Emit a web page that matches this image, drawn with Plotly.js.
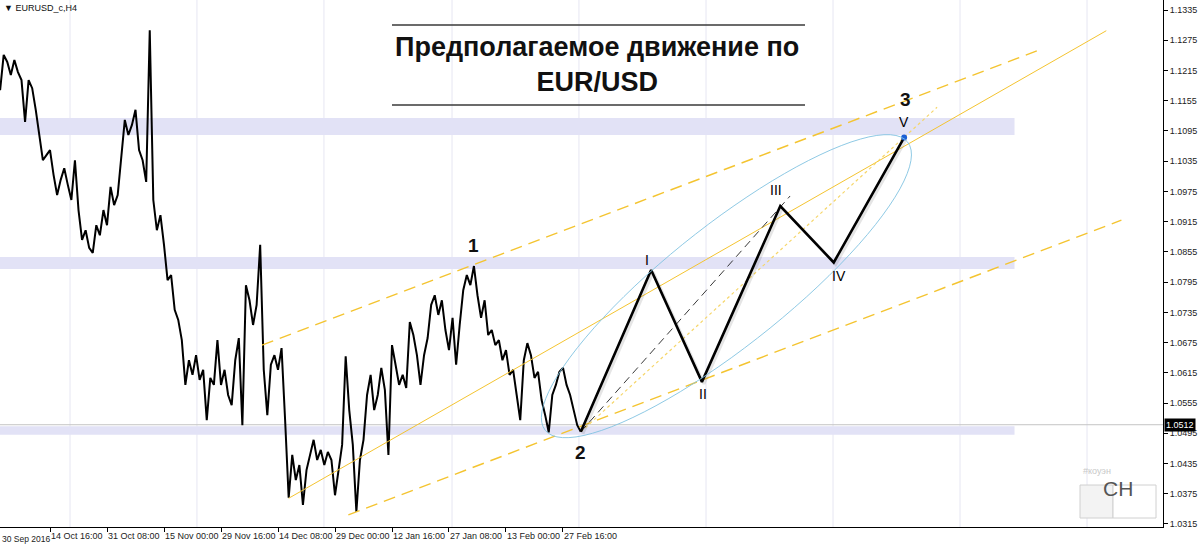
<!DOCTYPE html>
<html><head><meta charset="utf-8">
<script src="https://cdn.plot.ly/plotly-3.0.1.min.js"></script>
<style>html,body{margin:0;padding:0;background:#fff}#chart{width:1200px;height:548px}</style>
</head><body><div id="chart"></div>
<script>
// ---------- DATA ----------
const symbolLabel = "EURUSD_c,H4";
const titleLines = ["Предполагаемое движение по", "EUR/USD"];

// H4 price path (one value every 4 bars, bar index from priceStartBar)
const priceStartBar = 8;
const priceStepBars = 4;
const priceClose = [
 1.1176,1.1246,1.1232,1.1206,1.1236,1.1212,1.1196,1.1113,1.1196,1.1180,
 1.1137,1.1087,1.1037,1.1047,1.1057,1.1008,1.0968,1.0998,1.1021,1.0988,
 1.0958,1.1037,1.0938,1.0879,1.0898,1.0863,1.0853,1.0908,1.0888,1.0938,
 1.0908,1.0984,1.0948,1.0968,1.1037,1.1117,1.1087,1.1107,1.1137,1.1057,
 1.1037,1.0994,1.1295,1.0958,1.0898,1.0928,1.0869,1.0799,1.0809,1.0740,
 1.0720,1.0680,1.0591,1.0640,1.0611,1.0650,1.0601,1.0621,1.0521,1.0605,
 1.0591,1.0680,1.0591,1.0621,1.0571,1.0551,1.0640,1.0684,1.0511,1.0789,
 1.0759,1.0710,1.0750,1.0869,1.0621,1.0531,1.0631,1.0650,1.0621,1.0664,
 1.0521,1.0367,1.0452,1.0402,1.0432,1.0353,1.0422,1.0452,1.0482,1.0442,
 1.0462,1.0432,1.0458,1.0442,1.0372,1.0422,1.0472,1.0648,1.0541,1.0472,
 1.0339,1.0442,1.0482,1.0571,1.0611,1.0541,1.0571,1.0625,1.0581,1.0452,
 1.0670,1.0631,1.0591,1.0611,1.0585,1.0716,1.0690,1.0650,1.0591,1.0650,
 1.0684,1.0750,1.0769,1.0730,1.0759,1.0700,1.0660,1.0724,1.0631,1.0710,
 1.0779,1.0809,1.0789,1.0827,1.0769,1.0724,1.0759,1.0690,1.0700,1.0670,
 1.0680,1.0640,1.0660,1.0611,1.0621,1.0571,1.0521,1.0640,1.0674,1.0650,
 1.0605,1.0617,1.0561,1.0531,1.0497,1.0571,1.0591,1.0617,1.0625,1.0591,
 1.0571,1.0541,1.0511,1.0498
];

// time axis (bar index -> label)
const firstTimeLabel = "30 Sep 2016";
const timeTickBars = [64,128,192,256,320,384,448,512,576,640];
const timeTickLabels = ["14 Oct 16:00","31 Oct 08:00","15 Nov 00:00","29 Nov 16:00","14 Dec 08:00",
  "29 Dec 00:00","12 Jan 16:00","27 Jan 08:00","13 Feb 00:00","27 Feb 16:00"];
const gridBars = [86.5,229,371.6,515.4,657.9,800.6,943.2,1085.8,1228.4];

// price axis
const priceTicks = [1.0315,1.0375,1.0435,1.0495,1.0555,1.0615,1.0675,1.0735,1.0795,1.0855,
  1.0915,1.0975,1.1035,1.1095,1.1155,1.1215,1.1275,1.1335];
const currentPrice = 1.0512;

// horizontal zones
const zoneLow  = [1.0492, 1.0821, 1.1087];
const zoneHigh = [1.0509, 1.0845, 1.1121];
const zoneEndBar = 1147;

// projected wave
const waveBars   = [660, 739, 796, 884, 944, 1023];
const wavePrices = [1.0498, 1.0819, 1.0597, 1.0946, 1.0834, 1.1082];
const waveLabels = ["", "I", "II", "III", "IV", "V"];
const majorLabels = ["1", "2", "3"];
const majorBars   = [540, 660, 1023];
const majorPrices = [1.0827, 1.0498, 1.1082];

// channel / helper lines
const chanUpperBars = [302, 1172],  chanUpperPrices = [1.0670, 1.1254];
const chanMidBars   = [332, 1250],  chanMidPrices   = [1.0366, 1.1294];
const chanLowerBars = [399, 1267],  chanLowerPrices = [1.0333, 1.0918];
const blackDashBars = [660, 895],   blackDashPrices = [1.0498, 1.0966];
const dottedBars    = [660, 1060],  dottedPrices    = [1.0498, 1.1142];
const ellipseTipBars = [620, 1027], ellipseTipPrices = [1.0501, 1.1073];

// ---------- LAYOUT GEOMETRY ----------
const X_RANGE = [7.86, 1313.7];
const Y_RANGE = [1.0309, 1.1355];
const W = 1200, H = 548, M = {l:0, r:37, t:0, b:21};
const plotW = W - M.l - M.r, plotH = H - M.t - M.b;
const kx = plotW / (X_RANGE[1]-X_RANGE[0]);
const ky = plotH / (Y_RANGE[1]-Y_RANGE[0]);

const priceBars = priceClose.map((_, k) => priceStartBar + k*priceStepBars);

const GOLD = '#F4C430';
const traces = [];
traces.push({x:priceBars, y:priceClose, type:'scatter', mode:'lines',
  line:{color:'#000', width:2}, hoverinfo:'skip'});
traces.push({x:chanUpperBars, y:chanUpperPrices, mode:'lines', line:{color:GOLD, width:1.4, dash:'12px,7px'}, hoverinfo:'skip'});
traces.push({x:chanMidBars, y:chanMidPrices, mode:'lines', line:{color:GOLD, width:1}, hoverinfo:'skip'});
traces.push({x:chanLowerBars, y:chanLowerPrices, mode:'lines', line:{color:GOLD, width:1.4, dash:'12px,7px'}, hoverinfo:'skip'});
traces.push({x:dottedBars, y:dottedPrices, mode:'lines', line:{color:'#F6D66A', width:1.2, dash:'3px,3px'}, hoverinfo:'skip'});
traces.push({x:blackDashBars, y:blackDashPrices, mode:'lines', line:{color:'#222', width:0.9, dash:'8px,5px'}, hoverinfo:'skip'});
// shadow of wave line
const sdx = 2/kx, sdy = 2/ky;
traces.push({x:waveBars.map(v=>v+sdx), y:wavePrices.map(v=>v-sdy), mode:'lines',
  line:{color:'rgba(0,0,0,0.10)', width:3}, hoverinfo:'skip'});
traces.push({x:waveBars, y:wavePrices, mode:'lines', line:{color:'#000', width:2.6}, hoverinfo:'skip'});
traces.push({x:[waveBars[5]], y:[wavePrices[5]], mode:'markers', marker:{color:'#1c5fd6', size:6}, hoverinfo:'skip'});

// ellipse path (rotated, built in pixel proportion)
const halfMinorPx = 60;
const cB = (ellipseTipBars[0]+ellipseTipBars[1])/2, cP = (ellipseTipPrices[0]+ellipseTipPrices[1])/2;
const ax = (ellipseTipBars[1]-ellipseTipBars[0])/2*kx, ay = (ellipseTipPrices[1]-ellipseTipPrices[0])/2*ky;
const aLen = Math.hypot(ax, ay);
const bx = -ay/aLen*halfMinorPx, by = ax/aLen*halfMinorPx;
let path = '';
for (let d = 0; d <= 360; d += 4) {
  const t = d*Math.PI/180;
  const xb = cB + (Math.cos(t)*ax + Math.sin(t)*bx)/kx;
  const yp = cP + (Math.cos(t)*ay + Math.sin(t)*by)/ky;
  path += (d===0?'M':'L') + xb.toFixed(3) + ',' + yp.toFixed(5);
}
path += 'Z';

const shapes = [];
gridBars.forEach(g => shapes.push({type:'line', xref:'x', yref:'paper', x0:g, x1:g, y0:0, y1:1,
  line:{color:'#e6e6f2', width:1}, layer:'below'}));
zoneLow.forEach((lo, k) => shapes.push({type:'rect', xref:'x', yref:'y', x0:X_RANGE[0]-10, x1:zoneEndBar,
  y0:lo, y1:zoneHigh[k], fillcolor:'#e2e2f6', line:{width:0}, layer:'below'}));
shapes.push({type:'line', xref:'paper', yref:'y', x0:0, x1:1, y0:currentPrice, y1:currentPrice,
  line:{color:'#c4c4c4', width:1}, layer:'below'});
shapes.push({type:'path', xref:'x', yref:'y', path:path, line:{color:'rgba(130,195,225,0.9)', width:1}, layer:'above'});
// title rules
[25, 105].forEach(py => shapes.push({type:'line', xref:'paper', yref:'paper',
  x0:392/plotW, x1:805/plotW, y0:1-py/plotH, y1:1-py/plotH, line:{color:'#3a3a3a', width:1.6}}));
// CH box
shapes.push({type:'rect', xref:'paper', yref:'paper', x0:1080/plotW, x1:1113/plotW, y0:1-518/plotH, y1:1-485/plotH,
  fillcolor:'#f3f3f3', line:{color:'#d0d0d0', width:1}});
shapes.push({type:'rect', xref:'paper', yref:'paper', x0:1113/plotW, x1:1156/plotW, y0:1-518/plotH, y1:1-485/plotH,
  fillcolor:'#ffffff', line:{color:'#d0d0d0', width:1}});

const ann = [];
ann.push({xref:'paper', yref:'paper', x:0, y:0, xanchor:'left', yanchor:'top', xshift:0, yshift:-5,
  text:firstTimeLabel, showarrow:false, font:{size:8.5, color:'#222'}});
ann.push({xref:'paper', yref:'paper', x:0, y:1, xanchor:'left', yanchor:'top', xshift:2, yshift:-1,
  text:'▼ ' + symbolLabel, showarrow:false, font:{size:9, color:'#111'}});
ann.push({xref:'paper', yref:'paper', x:597/plotW, y:1-65/plotH, xanchor:'center', yanchor:'middle',
  text:'<b>' + titleLines.join('<br>') + '</b>', showarrow:false,
  font:{family:'Liberation Sans, Arial, sans-serif', size:27, color:'#111'}});
const romanShift = [[0,0],[-4,10],[1,-12],[-4,16],[5,-14],[0,16]];
waveLabels.forEach((t, k) => { if (!t) return;
  ann.push({x:waveBars[k], y:wavePrices[k], xref:'x', yref:'y', text:t, showarrow:false,
    xshift:romanShift[k][0], yshift:romanShift[k][1], font:{size:14, color:'#000'}}); });
const majorShift = [[0,21],[0,-21],[1,38]];
majorLabels.forEach((t, k) => ann.push({x:majorBars[k], y:majorPrices[k], xref:'x', yref:'y', text:'<b>'+t+'</b>',
  showarrow:false, xshift:majorShift[k][0], yshift:majorShift[k][1], font:{size:19, color:'#111'}}));
ann.push({xref:'paper', yref:'y', x:1, y:currentPrice, xanchor:'left', yanchor:'middle', xshift:1,
  text:currentPrice.toFixed(4), showarrow:false, bgcolor:'#000', font:{size:9, color:'#fff'}, borderpad:1});
ann.push({xref:'paper', yref:'paper', x:1134.5/plotW, y:1-502/plotH, text:'CH', showarrow:false,
  font:{size:21, color:'#555'}});
ann.push({xref:'paper', yref:'paper', x:1081/plotW, y:1-478/plotH, xanchor:'left', text:'#коуэн', showarrow:false,
  font:{size:9, color:'#c8c8c8'}});

const layout = {
  width:W, height:H, margin:M, paper_bgcolor:'#fff', plot_bgcolor:'#fff', showlegend:false,
  font:{family:'Liberation Sans, Arial, sans-serif', size:9, color:'#222'},
  xaxis:{range:X_RANGE, tickvals:timeTickBars, ticktext:timeTickLabels, ticklabelposition:'outside right',
    tickangle:0, ticks:'outside', ticklen:4, tickcolor:'#000', showgrid:false, zeroline:false, showline:true,
    linecolor:'#000', linewidth:1, mirror:true, tickfont:{size:9, color:'#222'}, automargin:false},
  yaxis:{range:Y_RANGE, side:'right', tickvals:priceTicks, ticktext:priceTicks.map(v=>v.toFixed(4)),
    ticks:'outside', ticklen:4, tickcolor:'#000', showline:true, linecolor:'#000', linewidth:1,
    showgrid:false, zeroline:false, tickfont:{size:9, color:'#222'}, automargin:false},
  shapes:shapes, annotations:ann
};
Plotly.newPlot('chart', traces, layout, {staticPlot:true, displayModeBar:false});
</script></body></html>
